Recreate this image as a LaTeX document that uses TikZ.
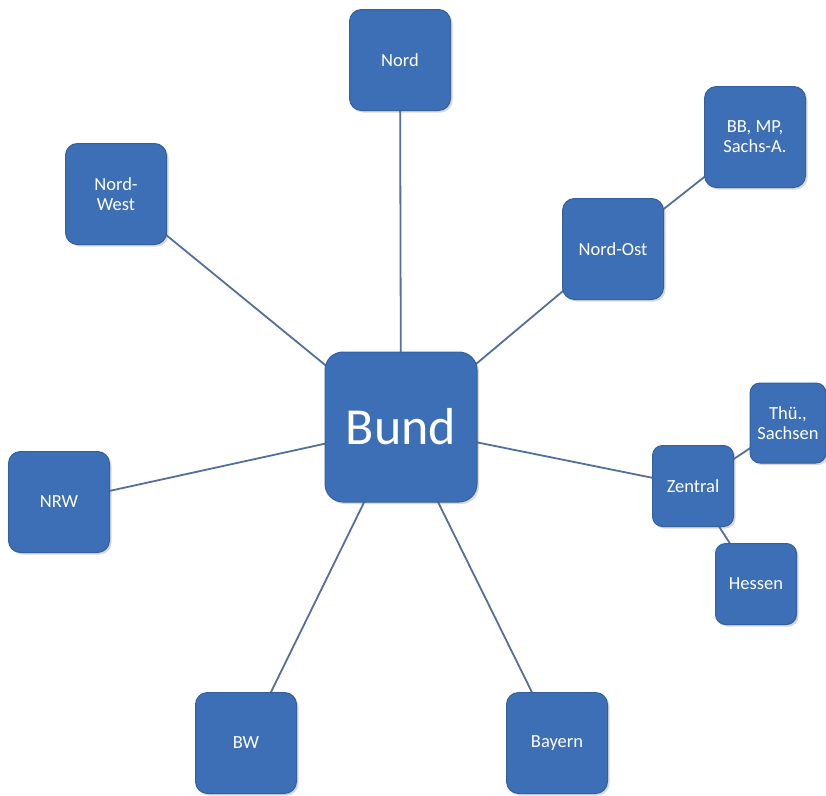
\documentclass[tikz,border=0pt]{standalone}
\usepackage{fontspec}
\setmainfont{Carlito}
\usetikzlibrary{shadows}
\definecolor{boxblue}{HTML}{3D6FB6}
\definecolor{boxedge}{HTML}{33609F}
\definecolor{linkgray}{HTML}{52709A}
\tikzset{
  region/.style={draw=boxedge, line width=1pt, fill=boxblue, rounded corners=12pt,
    minimum width=101pt, minimum height=101pt, inner sep=2pt, text=white,
    align=center, font=\fontsize{18.5}{20}\selectfont,
    drop shadow={shadow xshift=2pt, shadow yshift=-2pt, opacity=0.25, fill=black!60}},
  smallregion/.style={region, minimum width=81pt, minimum height=81pt, rounded corners=10pt},
  centre/.style={region, minimum width=152pt, minimum height=150pt, rounded corners=18pt,
    font=\fontsize{52}{56}\selectfont},
  link/.style={draw=linkgray, line width=1.8pt}
}
\begin{document}
\begin{tikzpicture}[x=1pt, y=-1pt]
  \useasboundingbox (0,0) rectangle (826,795);
  \fill[white] (0,0) rectangle (826,795);

  % connectors first, so the boxes cover their ends
  \coordinate (cBund) at (401,427);
  \coordinate (cNord) at (400,60);
  \coordinate (cNW) at (116,194);
  \coordinate (cNO) at (613,249);
  \coordinate (cBB) at (755,137);
  \coordinate (cNRW) at (59,502);
  \coordinate (cZen) at (693,486);
  \coordinate (cThue) at (788,423);
  \coordinate (cHes) at (756,584);
  \coordinate (cBW) at (246,743);
  \coordinate (cBay) at (557,743);

  \draw[link] (cBund) -- (cNord);
  \draw[link] (cBund) -- (cNW);
  \draw[link] (cBund) -- (cNO);
  \draw[link] (cNO) -- (cBB);
  \draw[link] (cBund) -- (cNRW);
  \draw[link] (cBund) -- (cZen);
  \draw[link] (cZen) -- (cThue);
  \draw[link] (cZen) -- (cHes);
  \draw[link] (cBund) -- (cBW);
  \draw[link] (cBund) -- (cBay);

  % boxes
  \node[centre] (bund) at (cBund) {Bund};
  \node[region] (nord) at (cNord) {Nord};
  \node[region] (nordwest) at (cNW) {Nord-\\West};
  \node[region] (nordost) at (cNO) {Nord-Ost};
  \node[region] (bbmp) at (cBB) {BB, MP,\\Sachs-A.};
  \node[region] (nrw) at (cNRW) {NRW};
  \node[smallregion] (zentral) at (cZen) {Zentral};
  \node[smallregion, minimum width=76pt, minimum height=80pt] (thue) at (cThue) {Thü.,\\Sachsen};
  \node[smallregion] (hessen) at (cHes) {Hessen};
  \node[region] (bw) at (cBW) {BW};
  \node[region] (bayern) at (cBay) {Bayern};
\end{tikzpicture}
\end{document}
